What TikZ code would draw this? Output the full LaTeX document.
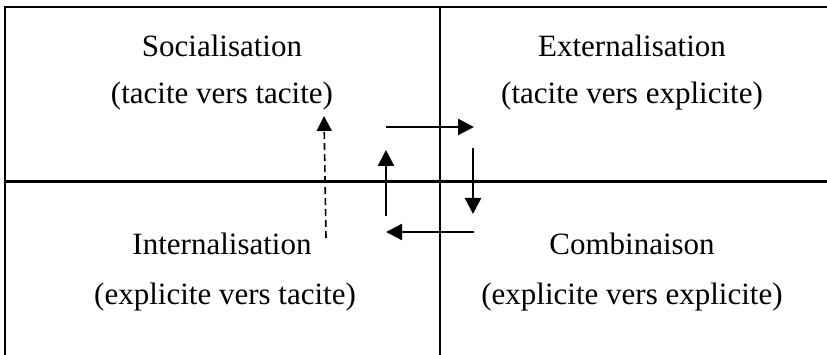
\documentclass[tikz,border=0pt]{standalone}
\usepackage{fontspec}
\setmainfont{Liberation Serif}
\usetikzlibrary{arrows.meta}
\begin{document}
\begin{tikzpicture}[x=1pt,y=-1pt,
  frame/.style={line width=2.2pt},
  lbl/.style={anchor=base,inner sep=0pt,font=\fontsize{31}{37}\selectfont},
  flow/.style={line width=2.3pt,-{Triangle[length=16pt,width=16pt]}},
  dflow/.style={line width=1.6pt,dash pattern=on 7pt off 4pt,-{Triangle[length=15pt,width=15pt]}}]
\useasboundingbox (0,0) rectangle (827,355);
% grid
\coordinate (tl) at (4,7);
\coordinate (tr) at (827,7);
\coordinate (lt) at (5,7);
\coordinate (bl) at (5,355);
\coordinate (mt) at (440,7);
\coordinate (mb) at (440,355);
\coordinate (ml) at (5,181.5);
\coordinate (mr) at (827,181.5);
\draw[frame] (tl) -- (tr);
\draw[frame] (lt) -- (bl);
\draw[frame] (mt) -- (mb);
\draw[frame] (ml) -- (mr);
% labels
\node[lbl] (soc) at (222,57) {Socialisation};
\node[lbl] (soc2) at (222,104) {(tacite vers tacite)};
\node[lbl] (ext) at (632,57) {Externalisation};
\node[lbl] (ext2) at (632,104) {(tacite vers explicite)};
\node[lbl] (int) at (222,255) {Internalisation};
\node[lbl] (int2) at (225,305) {(explicite vers tacite)};
\node[lbl] (com) at (632,255) {Combinaison};
\node[lbl] (com2) at (632,305) {(explicite vers explicite)};
% arrows
\coordinate (a1) at (386,127);
\coordinate (a2) at (474,127);
\coordinate (b1) at (473,148);
\coordinate (b2) at (473,214);
\coordinate (c1) at (474,232);
\coordinate (c2) at (386,232);
\coordinate (d1) at (386,216);
\coordinate (d2) at (386,150);
\coordinate (e1) at (326,238);
\coordinate (e2) at (324,116);
\draw[flow] (a1) -- (a2);
\draw[flow] (b1) -- (b2);
\draw[flow] (c1) -- (c2);
\draw[flow] (d1) -- (d2);
\draw[dflow] (e1) -- (e2);
\end{tikzpicture}
\end{document}
